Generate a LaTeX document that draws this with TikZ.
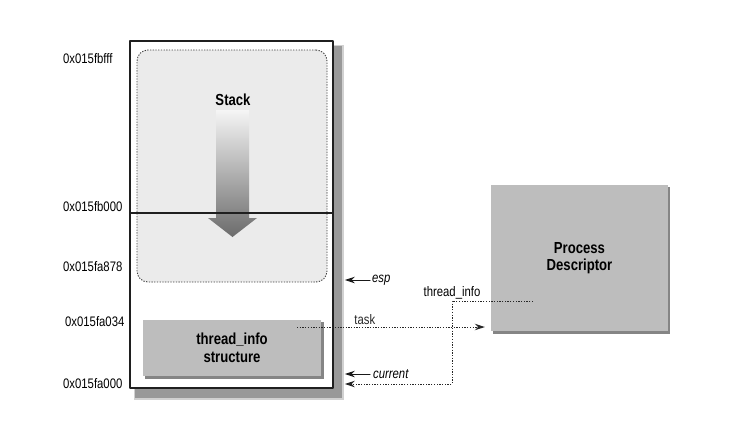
\documentclass[tikz,border=0pt]{standalone}
\usepackage{fontspec}
\setmainfont{Liberation Sans}[FakeStretch=0.82]
\usetikzlibrary{arrows.meta,positioning}

\colorlet{stackfill}{black!8}
\colorlet{boxfill}{black!26}
\colorlet{boxedge}{black!48}
\colorlet{inkline}{black!88}

\tikzset{
    addr/.style={anchor=west, inner sep=0pt, font=\fontsize{13.8}{15}\selectfont},
    titletext/.style={font=\bfseries\fontsize{16}{17.5}\selectfont, align=center},
    structbox/.style={fill=boxfill, minimum width=#1, inner sep=0pt, titletext},
    dots/.style={line cap=butt, dash pattern=on 1.3pt off 1.4pt},
    dotlink/.style={dots, line width=1pt, black!85},
    ptrlink/.style={line width=1pt, black!90}
}

\begin{document}
\begin{tikzpicture}[
    x=1pt, y=-1pt,
    >={Stealth[length=10pt,width=6.5pt]},
    font=\fontsize{13.8}{15}\selectfont,
    line cap=round,
    line join=round
]

% --- Definitions ---
\def\frameL{130}
\def\frameR{333}
\def\frameT{41}
\def\frameB{388}
\def\splitY{213}

\useasboundingbox (0,0) rectangle (751,421);

% --- Frame shadow and frame ---
\fill[black!18] (\frameL+4, \frameT+4) rectangle (\frameR+11, \frameB+12);
\fill[black!40] (\frameL+5, \frameT+5) rectangle (\frameR+9, \frameB+10);
\node[draw=inkline, line width=1.7pt, fill=white, inner sep=0pt,
      minimum width=203pt, minimum height=347pt] (frame)
      at ({(\frameL+\frameR)/2}, {(\frameT+\frameB)/2}) {};

% --- Stack area (dotted, rounded) ---
\node[draw=black!75, dots, line width=0.9pt, fill=stackfill,
      rounded corners=11pt, minimum width=190pt, minimum height=232pt] (stack)
      at (232, 166) {};
\node[titletext] (stacklbl) at (233, 100) {Stack};

% Growth arrow, shaded downwards
\shade[top color=black!4, bottom color=black!58]
    (216,110) -- (249,110) -- (249,218) -- (257,218)
    -- (232.5,237) -- (208,218) -- (216,218) -- cycle;

% Split between the two pages
\draw[inkline, line width=1.3pt] (\frameL, \splitY) -- (\frameR, \splitY);

% --- thread_info structure ---
\fill[boxedge] (145, 322) rectangle (324, 379);
\node[structbox=178pt, minimum height=56pt] (tinfo) at (232, 348)
    {thread\_info\\structure};

% --- Process descriptor ---
\fill[boxedge] (493, 187) rectangle (670, 334);
\node[structbox=177pt, minimum height=146pt] (pdesc) at (579.5, 258)
    {Process\\Descriptor};

% --- Addresses ---
\node[addr] (atop)  at (63, 59)  {0x015fbfff};
\node[addr] (asplit) at (63, 207) {0x015fb000};
\node[addr] (aesp)  at (63, 267) {0x015fa878};
\node[addr] (ainfo) at (65, 322) {0x015fa034};
\node[addr] (abase) at (63, 384) {0x015fa000};

% --- Pointers ---
\coordinate (esptail) at (370, 280);
\coordinate (curtail) at (370, 374);
\draw[ptrlink, ->, shorten >=11pt] (esptail) -- (frame.east |- esptail);
\node[right=2pt of esptail, inner sep=0pt] (esplbl) {\itshape esp};
\draw[ptrlink, ->, shorten >=11pt] (curtail) -- (frame.east |- curtail);
\node[right=3pt of curtail, inner sep=0pt] (curlbl) {\itshape current};

% task: thread_info -> process descriptor
\coordinate (taskstart) at (297, 327);
\draw[dotlink, ->, shorten >=6pt] (taskstart) -- (pdesc.west |- taskstart)
    node[pos=0.35, above, inner sep=2pt] {task};

% thread_info: process descriptor -> bottom of the stack
\coordinate (tistart) at (533, 301);
\coordinate (tibend) at (452, 301);
\draw[dotlink, ->, shorten >=11pt] (tistart) -- (tibend)
    -- (tibend |- 0,384) -- (frame.east |- 0,384);
\node[above=1pt of tibend, inner sep=1pt] (tilbl) {thread\_info};

\end{tikzpicture}
\end{document}
